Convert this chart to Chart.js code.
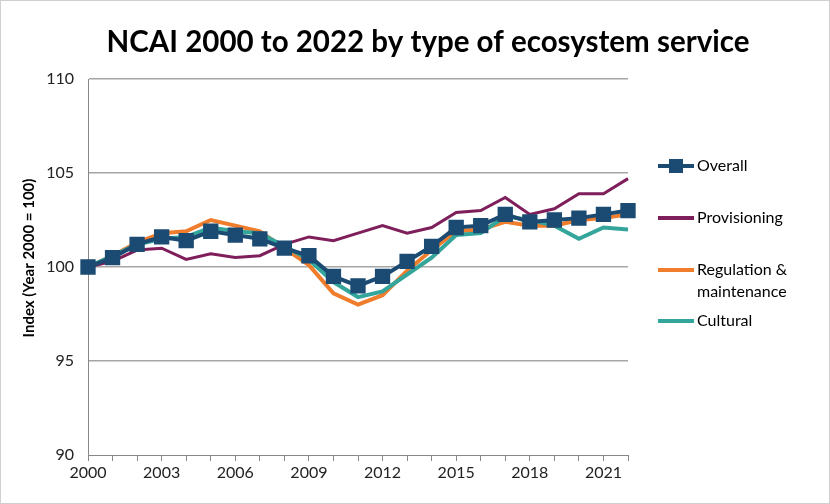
<!DOCTYPE html>
<html>
<head>
<meta charset="utf-8">
<script src="https://cdn.jsdelivr.net/npm/chart.js@4.4.1/dist/chart.umd.min.js"></script>
<style>
  html, body { margin: 0; padding: 0; background: #fff; }
  #wrap { width: 830px; height: 504px; }
</style>
</head>
<body>
<div id="wrap"><canvas id="ncaiChart" width="830" height="504"></canvas></div>
<script>
// Years and index values (Year 2000 = 100)
const years = ['2000','2001','2002','2003','2004','2005','2006','2007','2008','2009','2010',
  '2011','2012','2013','2014','2015','2016','2017','2018','2019','2020','2021','2022'];
const overall = [100, 100.5, 101.2, 101.6, 101.4, 101.9, 101.7, 101.5, 101.0, 100.6, 99.5,
  99.0, 99.5, 100.3, 101.1, 102.1, 102.2, 102.8, 102.4, 102.5, 102.6, 102.8, 103.0];
const provisioning = [100, 100.3, 100.9, 101.0, 100.4, 100.7, 100.5, 100.6, 101.2, 101.6, 101.4,
  101.8, 102.2, 101.8, 102.1, 102.9, 103.0, 103.7, 102.8, 103.1, 103.9, 103.9, 104.7];
const regulation = [100, 100.6, 101.3, 101.8, 101.9, 102.5, 102.2, 101.9, 101.0, 100.1, 98.6,
  98.0, 98.5, 99.8, 100.9, 101.9, 102.0, 102.4, 102.2, 102.2, 102.5, 102.6, 102.8];
const cultural = [100, 100.6, 101.2, 101.5, 101.6, 102.1, 101.9, 101.8, 101.1, 100.4, 99.2,
  98.4, 98.7, 99.6, 100.5, 101.7, 101.8, 102.7, 102.5, 102.2, 101.5, 102.1, 102.0];
const yTicks = [90, 95, 100, 105, 110];

const FONT = 'Lato, "Open Sans", sans-serif';

// Custom legend on the right, plus title, axis title and outer frame
const decorPlugin = {
    id: 'decor',
    afterDraw(chart) {
        const ctx = chart.ctx;
        ctx.save();
        // outer frame
        ctx.strokeStyle = '#d0d0d0';
        ctx.lineWidth = 1;
        ctx.strokeRect(0.5, 0.5, chart.width - 1, chart.height - 1);

        // title
        ctx.fillStyle = '#000';
        ctx.font = 'bold 29.5px ' + FONT;
        ctx.textAlign = 'center';
        ctx.textBaseline = 'middle';
        ctx.fillText('NCAI 2000 to 2022 by type of ecosystem service', 428, 42);

        // y axis title
        ctx.save();
        ctx.translate(29, 258);
        ctx.rotate(-Math.PI / 2);
        ctx.font = 'bold 15px ' + FONT;
        ctx.fillText('Index (Year 2000 = 100)', 0, 0);
        ctx.restore();

        // legend
        const rows = [166, 218, 270, 321];
        ctx.font = '16px ' + FONT;
        ctx.textAlign = 'left';
        chart.data.datasets.forEach((ds, i) => {
            const y = rows[i];
            ctx.strokeStyle = ds.borderColor;
            ctx.lineWidth = 4;
            ctx.beginPath();
            ctx.moveTo(658, y);
            ctx.lineTo(694, y);
            ctx.stroke();
            if (ds.pointStyle === 'rect') {
                ctx.fillStyle = ds.borderColor;
                ctx.fillRect(669, y - 7, 14, 14);
            }
            ctx.fillStyle = '#000';
            const lines = ds.label.split('\n');
            lines.forEach((t, k) => ctx.fillText(t, 697, y + k * 22));
        });
        ctx.restore();
    }
};

const ctx = document.getElementById('ncaiChart').getContext('2d');
new Chart(ctx, {
    type: 'line',
    data: {
        labels: years,
        datasets: [
            {
                label: 'Overall',
                data: overall,
                borderColor: '#1b4a72',
                backgroundColor: '#1b4a72',
                borderWidth: 4,
                pointStyle: 'rect',
                pointRadius: 8,
                pointHoverRadius: 8,
                order: 0
            },
            {
                label: 'Provisioning',
                data: provisioning,
                borderColor: '#7e1e5a',
                borderWidth: 3,
                pointRadius: 0,
                order: 3
            },
            {
                label: 'Regulation &\nmaintenance',
                data: regulation,
                borderColor: '#f07d2c',
                borderWidth: 4,
                pointRadius: 0,
                order: 2
            },
            {
                label: 'Cultural',
                data: cultural,
                borderColor: '#33a59b',
                borderWidth: 4,
                pointRadius: 0,
                order: 1
            }
        ]
    },
    options: {
        responsive: false,
        animation: false,
        layout: { padding: { left: 0, right: 202, top: 79, bottom: 0 } },
        plugins: {
            legend: { display: false },
            title: { display: false },
            tooltip: { enabled: false }
        },
        scales: {
            x: {
                type: 'category',
                offset: false,
                grid: {
                    drawOnChartArea: false,
                    drawTicks: true,
                    tickLength: 6,
                    color: '#888'
                },
                border: { color: '#888', width: 1 },
                ticks: {
                    autoSkip: false,
                    maxRotation: 0,
                    color: '#222',
                    font: { size: 16, family: FONT },
                    padding: 2,
                    callback: function(val, idx) {
                        return idx % 3 === 0 ? years[idx] : '';
                    }
                },
                afterFit(scale) { scale.height = 49; }
            },
            y: {
                min: yTicks[0],
                max: yTicks[yTicks.length - 1],
                afterBuildTicks(scale) {
                    scale.ticks = yTicks.map(v => ({ value: v }));
                },
                grid: {
                    drawTicks: false,
                    color: ctx => ctx.tick.value === 90 ? 'rgba(0,0,0,0)' : '#a6a6a6',
                    lineWidth: 1.5
                },
                border: { color: '#888', width: 1 },
                ticks: {
                    color: '#222',
                    font: { size: 16, family: FONT },
                    padding: 14
                },
                afterFit(scale) { scale.width = 88; }
            }
        }
    },
    plugins: [decorPlugin]
});
</script>
</body>
</html>
